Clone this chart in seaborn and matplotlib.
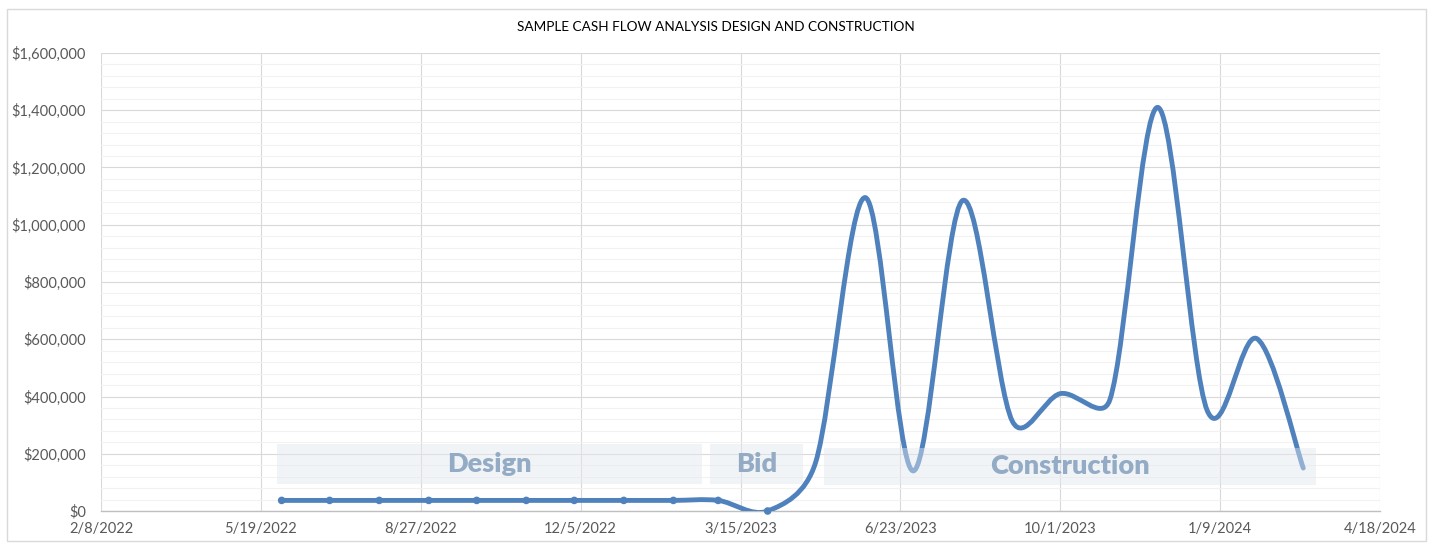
import matplotlib
matplotlib.use("Agg")
import numpy as np
import pandas as pd
import seaborn as sns
import matplotlib.pyplot as plt
import matplotlib.dates as mdates
from matplotlib.path import Path
from matplotlib.patches import PathPatch, Rectangle
from matplotlib.ticker import FuncFormatter, MultipleLocator, FixedLocator

# ---------------- data ----------------
months = ["2022-06-01", "2022-07-01", "2022-08-01", "2022-09-01", "2022-10-01",
          "2022-11-01", "2022-12-01", "2023-01-01", "2023-02-01", "2023-03-01",
          "2023-04-01", "2023-05-01", "2023-06-01", "2023-07-01", "2023-08-01",
          "2023-09-01", "2023-10-01", "2023-11-01", "2023-12-01", "2024-01-01",
          "2024-02-01", "2024-03-01"]
cash_flow = [37000, 37000, 37000, 37000, 37000,
             37000, 37000, 37000, 37000, 37000,
             0, 170000, 1095000, 140000, 1085000,
             314000, 410000, 388000, 1410000, 350000,
             602000, 150000]
x_ticks = ["2022-02-08", "2022-05-19", "2022-08-27", "2022-12-05", "2023-03-15",
           "2023-06-23", "2023-10-01", "2024-01-09", "2024-04-18"]
phase_names = ["Design", "Bid", "Construction"]
phase_starts = ["2022-05-29", "2023-02-24", "2023-05-06"]
phase_ends = ["2023-02-19", "2023-04-23", "2024-03-09"]
title = "SAMPLE CASH FLOW ANALYSIS DESIGN AND CONSTRUCTION"

df = pd.DataFrame({"month": pd.to_datetime(months), "cash": cash_flow})
df["xnum"] = mdates.date2num(df["month"])

# ---------------- style ----------------
sns.set_theme(style="white")
plt.rcParams["font.family"] = ["Lato", "DejaVu Sans"]

W, H = 1434, 544
fig = plt.figure(figsize=(W / 100, H / 100), dpi=100)
ax = fig.add_axes([101 / W, 1 - 511 / H, (1380 - 101) / W, (511 - 53) / H])

xt = mdates.date2num(pd.to_datetime(x_ticks))
ax.set_xlim(xt[0], xt[-1])
ax.set_ylim(0, 1600000)

# grid
ax.xaxis.set_major_locator(FixedLocator(xt))
ax.yaxis.set_major_locator(MultipleLocator(200000))
ax.yaxis.set_minor_locator(MultipleLocator(40000))
ax.grid(which="major", axis="both", color="#D9D9D9", lw=0.8, zorder=0)
ax.grid(which="minor", axis="y", color="#F2F2F2", lw=0.8, zorder=0)
ax.set_axisbelow(True)

def fmt_date(v, pos=None):
    d = mdates.num2date(v)
    return f"{d.month}/{d.day}/{d.year}"

ax.xaxis.set_major_formatter(FuncFormatter(fmt_date))
ax.yaxis.set_major_formatter(FuncFormatter(lambda v, p: f"${v:,.0f}"))
ax.tick_params(axis="both", which="both", length=0, labelsize=10.5, colors="#595959")
ax.tick_params(axis="y", pad=11)
ax.tick_params(axis="x", pad=8)
for s in ["top", "right", "left"]:
    ax.spines[s].set_visible(False)
ax.spines["bottom"].set_color("#BFBFBF")
ax.spines["bottom"].set_linewidth(1.0)

# ---------------- smoothed line (Excel-like Bezier) ----------------
pts_data = df[["xnum", "cash"]].to_numpy(dtype=float)
pts_pix = ax.transData.transform(pts_data)
n = len(pts_data)
tension = 1 / 6

def arms(i):
    i0, i2 = max(i - 1, 0), min(i + 1, n - 1)
    dv = pts_data[i2] - pts_data[i0]
    dp = pts_pix[i2] - pts_pix[i0]
    d01 = np.hypot(*(pts_pix[i] - pts_pix[i0]))
    d12 = np.hypot(*(pts_pix[i2] - pts_pix[i]))
    arm_len = np.hypot(*dp) * tension
    fb = fa = tension
    if arm_len > 0:
        if arm_len > d01 / 2:
            fb = tension * (d01 / 2) / arm_len
        if arm_len > d12 / 2:
            fa = tension * (d12 / 2) / arm_len
    return -dv * fb, dv * fa

arm_list = [arms(i) for i in range(n)]
verts = [tuple(pts_data[0])]
codes = [Path.MOVETO]
for i in range(n - 1):
    c1 = pts_data[i] + arm_list[i][1]
    c2 = pts_data[i + 1] + arm_list[i + 1][0]
    verts += [tuple(c1), tuple(c2), tuple(pts_data[i + 1])]
    codes += [Path.CURVE4] * 3
line = PathPatch(Path(verts, codes), facecolor="none", edgecolor="#4F81BD",
                 lw=3.5, capstyle="round", joinstyle="round", zorder=3)
ax.add_patch(line)

# markers on the pre-construction points (design + bid)
bid_end = pd.Timestamp(phase_ends[1])
sns.scatterplot(data=df[df["month"] <= bid_end], x="xnum", y="cash", ax=ax,
                color="#4F81BD", s=30, edgecolor="none", zorder=4,
                legend=False, clip_on=False)
ax.set_xlabel("")
ax.set_ylabel("")
ax.set_xlim(xt[0], xt[-1])
ax.set_ylim(0, 1600000)

# ---------------- phase boxes ----------------
box_bottoms = [93000, 93000, 91000]
box_tops = [233000, 233000, 220000]
for name, s, e, b, t in zip(phase_names, phase_starts, phase_ends, box_bottoms, box_tops):
    x0 = mdates.date2num(pd.Timestamp(s))
    x1 = mdates.date2num(pd.Timestamp(e))
    ax.add_patch(Rectangle((x0, b), x1 - x0, t - b, facecolor="#E2E7EE",
                           edgecolor="none", alpha=0.45, zorder=5))
    ax.text((x0 + x1) / 2, (b + t) / 2, name, ha="center", va="center",
            fontsize=19.5, fontweight="heavy", color="#93ABC4", zorder=6)

# ---------------- title & frame ----------------
fig.text(716 / W, 1 - 27 / H, title, ha="center", va="center", fontsize=9.8, color="#000000")
fig.patches.append(Rectangle((7 / W, 1 - 541 / H), (1426 - 7) / W, (541 - 9) / H,
                             transform=fig.transFigure, facecolor="none",
                             edgecolor="#D9D9D9", lw=1.0))

fig.savefig("out.png", dpi=100)
